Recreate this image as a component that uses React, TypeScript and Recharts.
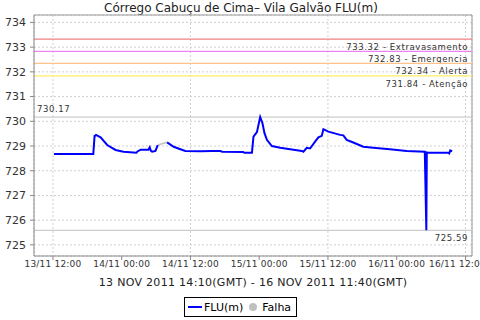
import { CartesianGrid, Legend, Line, LineChart, ReferenceLine, XAxis, YAxis } from "recharts";

// hours counted from 13/11 00:00 (local time)
const X_MIN = 8.69;
const X_MAX = 85.14;
const Y_MIN = 724.55;
const Y_MAX = 734.3;

const xTicks = [12, 24, 36, 48, 60, 72, 84];
const xTickLabels = [
    "13/11 12:00",
    "14/11 00:00",
    "14/11 12:00",
    "15/11 00:00",
    "15/11 12:00",
    "16/11 00:00",
    "16/11 12:00",
];
const yTicks = [725, 726, 727, 728, 729, 730, 731, 732, 733, 734];

const fluHours = [
    12.17, 19.04, 19.26, 19.52, 20.31, 21.47, 22.92, 24.31, 26.58, 26.75, 27.31, 28.67, 28.89, 29.1,
    29.31, 29.89, 30.29, 31.1, 31.92, 33.07, 34.24, 35.11, 37.72, 39.81, 41.2, 41.55, 45.21, 45.38,
    46.73, 47.0, 47.6, 48.17, 48.57, 48.92, 49.34, 50.21, 51.66, 53.4, 55.43, 55.71, 56.3, 56.88,
    57.75, 58.33, 58.92, 59.2, 60.07, 62.11, 62.68, 63.27, 64.42, 66.16, 67.9, 70.81, 73.72, 76.9,
    77.17, 77.25, 77.53, 80.97, 81.17, 81.35, 81.67,
];
const fluValues = [
    728.68, 728.68, 729.4, 729.45, 729.35, 729.04, 728.84, 728.77, 728.73, 728.78, 728.85, 728.85,
    728.95, 728.8, 728.77, 728.8, 729.04, null, 729.15, 728.97, 728.87, 728.8, 728.79, 728.8, 728.8,
    728.77, 728.76, 728.73, 728.73, 729.38, 729.56, 730.17, 729.92, 729.52, 729.25, 729.0, 728.93,
    728.87, 728.8, 728.77, 728.93, 728.9, 729.18, 729.35, 729.41, 729.68, 729.58, 729.45, 729.43,
    729.25, 729.14, 728.97, 728.93, 728.87, 728.8, 728.77, 725.59, 728.74, 728.73, 728.73, 728.7,
    728.82, 728.78,
];

// gap in the readings, drawn as "Falha"
const falhaHours = [30.29, 31.92];
const falhaValues = [729.04, 729.15];

const limitValues = [733.32, 732.83, 732.34, 731.84];
const limitNames = ["Extravasamento", "Emergencia", "Alerta", "Atenção"];
const limitColors = ["#f08080", "#ee82ee", "#ffc38a", "#ffee66"];

const maxValue = 730.17;
const minValue = 725.59;

const fluData = fluHours.map((t, i) => ({ t, v: fluValues[i] }));
const falhaData = falhaHours.map((t, i) => ({ t, v: falhaValues[i] }));

const FONT = "'DejaVu Sans', sans-serif";
const smallText = { fontFamily: FONT, fontSize: 8.5, letterSpacing: 0.6, fill: "#333" };

const labelBelowRight = (text: string) => (props: any) => {
    const vb = props.viewBox;
    return (
        <text x={vb.x + vb.width - 4} y={vb.y + 11} textAnchor="end" {...smallText}>
            {text}
        </text>
    );
};

const labelAboveLeft = (text: string) => (props: any) => {
    const vb = props.viewBox;
    return (
        <text x={vb.x + 3} y={vb.y - 5} textAnchor="start" {...smallText}>
            {text}
        </text>
    );
};

function LegendBox() {
    return (
        <div
            style={{
                display: "flex",
                alignItems: "center",
                border: "1px solid #000",
                height: 20,
                padding: "0 3px",
                fontFamily: FONT,
                fontSize: 11,
                color: "#000",
                background: "#fff",
                boxSizing: "border-box",
            }}
        >
            <svg width={14} height={4} style={{ marginRight: 2 }}>
                <line x1={0} y1={2} x2={14} y2={2} stroke="#0000ff" strokeWidth={2} />
            </svg>
            <span>FLU(m)</span>
            <svg width={14} height={10} style={{ margin: "0 2px 0 3px" }}>
                <circle cx={7} cy={5} r={4} fill="#c0c0c0" />
            </svg>
            <span>Falha</span>
        </div>
    );
}

export default function App() {
    return (
        <div style={{ position: "absolute", left: 0, top: 0, width: 480, height: 320, background: "#fff" }}>
            <div
                style={{
                    position: "absolute",
                    left: 0,
                    top: 1,
                    width: 482,
                    textAlign: "center",
                    fontFamily: FONT,
                    fontSize: 12,
                    color: "#222",
                    lineHeight: "14px",
                }}
            >
                Córrego Cabuçu de Cima– Vila Galvão FLU(m)
            </div>
            <LineChart width={480} height={320} margin={{ top: 15, right: 8, left: 0, bottom: 0 }}>
                <CartesianGrid stroke="#d0d0d0" strokeDasharray="2 2" />
                <XAxis
                    dataKey="t"
                    type="number"
                    domain={[X_MIN, X_MAX]}
                    allowDataOverflow
                    ticks={xTicks}
                    tickFormatter={(v: number) => xTickLabels[xTicks.indexOf(v)]}
                    height={64}
                    stroke="#888"
                    tickSize={4}
                    tickMargin={1}
                    tick={{ fontFamily: FONT, fontSize: 9, fill: "#333", letterSpacing: 0.2 }}
                    label={{
                        value: "13 NOV 2011 14:10(GMT) - 16 NOV 2011 11:40(GMT)",
                        position: "insideTop",
                        offset: 22,
                        style: { fontFamily: FONT, fontSize: 11, fill: "#222", letterSpacing: 0.3 },
                    }}
                />
                <YAxis
                    type="number"
                    domain={[Y_MIN, Y_MAX]}
                    allowDataOverflow
                    ticks={yTicks}
                    width={34}
                    stroke="#888"
                    tickSize={4}
                    tickMargin={4}
                    tick={{ fontFamily: FONT, fontSize: 11, fill: "#333" }}
                />
                <ReferenceLine x={X_MAX} stroke="#999" />
                <ReferenceLine y={Y_MAX} stroke="#999" />
                {limitValues.map((v, i) => (
                    <ReferenceLine
                        key={v}
                        y={v}
                        stroke={limitColors[i]}
                        strokeWidth={1.2}
                        label={labelBelowRight(`${v.toFixed(2)} - ${limitNames[i]}`)}
                    />
                ))}
                <ReferenceLine y={maxValue} stroke="#c0c0c0" label={labelAboveLeft(maxValue.toFixed(2))} />
                <ReferenceLine y={minValue} stroke="#c0c0c0" label={labelBelowRight(minValue.toFixed(2))} />
                <Line
                    data={falhaData}
                    dataKey="v"
                    name="Falha"
                    type="linear"
                    stroke="#c0c0c0"
                    strokeWidth={1.5}
                    dot={false}
                    isAnimationActive={false}
                />
                <Line
                    data={fluData}
                    dataKey="v"
                    name="FLU(m)"
                    type="linear"
                    stroke="#0000ff"
                    strokeWidth={2}
                    dot={false}
                    connectNulls={false}
                    isAnimationActive={false}
                />
                <Legend
                    layout="horizontal"
                    verticalAlign="middle"
                    align="center"
                    wrapperStyle={{ left: 184, top: 297, width: 113, height: 22 }}
                    content={() => <LegendBox />}
                />
            </LineChart>
        </div>
    );
}
